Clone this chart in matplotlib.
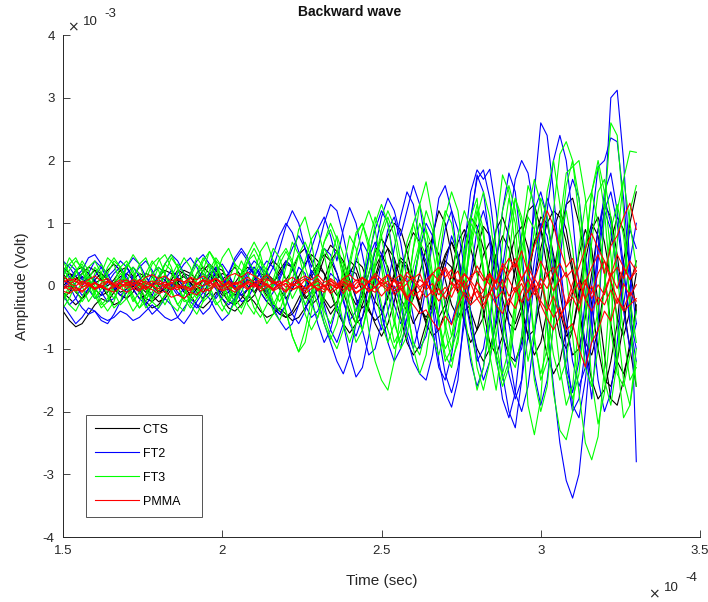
import numpy as np
import matplotlib
matplotlib.use("Agg")
import matplotlib.pyplot as plt
from matplotlib.ticker import FixedLocator

plt.rcParams['font.family'] = ['Liberation Sans', 'DejaVu Sans']

# Sampling of every record: start time and step (seconds)
T_START = 1.5e-4
T_STEP = 0.02e-4
# Amplitudes below are stored in units of 1e-5 V
AMP_UNIT = 1e-5

labels = ["CTS", "FT2", "FT3", "PMMA"]
colors = ["#000000", "#0000ff", "#00ff00", "#ff0000"]

cts = [
    [-40, -55, -65, -60, -45, -30, -20, -25, -10, 5,
     10, -5, -20, -15, 0, 15, 10, -5, 5, 20,
     15, 0, -10, 5, 20, 10, -5, -15, 0, 10,
     5, -10, -25, -35, -45, -50, -40, -20, 0, 20,
     35, 50, 40, 20, -10, -40, -60, -50, -20, 15,
     50, 80, 100, 90, 55, 10, -30, -60, -80, -70,
     -40, 0, 40, 80, 110, 95, 60, 20, -30, -80,
     -110, -120, -90, -40, 10, 60, 100, 120, 110, 70,
     20, -40, -100, -150, -180, -165, -120, -60, 40, 100,
     150],
    [10, 20, 15, 5, 15, 25, 20, 10, 0, -10,
     -5, 10, 20, 15, 0, -10, -5, 10, 25, 20,
     5, -5, 0, 15, 30, 25, 10, -5, -15, -5,
     10, 20, 15, 5, 20, 35, 30, 10, -15, -30,
     -20, 10, 40, 55, 40, 10, -20, -35, -25, 10,
     40, 60, 45, 10, -30, -60, -40, 20, 80, 120,
     100, 50, -10, -60, -90, -70, -20, 40, 90, 110,
     80, 30, -30, -80, -110, -90, -40, 20, 80, 130,
     140, 100, 40, -30, -100, -150, -160, -120, -60, 0,
     40],
    [-20, -10, 5, 15, 10, -5, -15, -10, 5, 15,
     20, 10, -5, -20, -25, -15, 0, 10, 5, -10,
     -15, -5, 10, 20, 10, -10, -25, -30, -20, -5,
     5, 0, -15, -30, -40, -50, -45, -30, -10, 15,
     30, 20, -10, -40, -60, -75, -60, -30, 0, 30,
     50, 30, -10, -50, -90, -110, -95, -60, -20, 20,
     50, 70, 40, -10, -60, -100, -120, -100, -60, -10,
     40, 80, 95, 60, 0, -60, -110, -140, -120, -70,
     -10, 50, 90, 60, -30, -110, -180, -190, -150, -90,
     -40],
    [30, 20, 10, 20, 30, 25, 10, 0, 10, 25,
     30, 15, 0, -10, 0, 15, 25, 20, 5, -5,
     0, 20, 30, 20, 0, -15, -10, 5, 20, 30,
     20, 0, -10, 5, 25, 40, 30, 5, -20, -10,
     15, 45, 65, 55, 25, -10, -30, -15, 20, 55,
     75, 60, 20, -20, -40, -20, 20, 60, 75, 50,
     10, -30, -50, -30, 10, 60, 95, 80, 30, -20,
     -60, -70, -40, 10, 70, 110, 100, 50, -10, -70,
     -110, -100, -50, 20, 90, 130, 110, 50, -30, -100,
     -160],
    [-10, -20, -30, -20, -5, 5, 0, -15, -30, -25,
     -10, 0, -10, -25, -35, -30, -15, 0, 10, 0,
     -15, -30, -35, -25, -10, -20, -35, -40, -30, -15,
     -25, -40, -50, -45, -35, -45, -55, -50, -35, -20,
     -5, -20, -35, -25, 0, 25, 20, -10, -40, -55,
     -45, -15, 20, 45, 35, 0, -35, -50, -30, 10,
     40, 30, -10, -40, -30, 10, 50, 70, 45, 0,
     -40, -60, -30, 20, 70, 90, 60, 10, -40, -80,
     -70, -20, 40, 90, 110, 70, 10, -50, -80, -40,
     20],
    [0, 10, 25, 30, 20, 5, 10, 25, 35, 25,
     10, 0, 10, 20, 15, 0, -10, 0, 15, 25,
     20, 10, 25, 35, 25, 10, 20, 30, 15, 0,
     -10, 5, 20, 10, -5, -20, -5, 15, 35, 50,
     40, 20, 0, -15, 0, 20, 40, 30, 0, -25,
     -40, -20, 15, 40, 30, 0, -30, -55, -40, 0,
     45, 70, 50, 0, -40, -70, -50, 0, 50, 80,
     60, 10, -40, -80, -70, -20, 40, 90, 120, 90,
     30, -40, -90, -110, -70, 0, 70, 110, 90, 30,
     -40],
    [20, 5, -10, -20, -10, 10, 20, 10, -5, -15,
     -20, -10, 5, 0, -15, -25, -20, -5, 10, 15,
     5, -10, -20, -10, 10, 20, 15, 0, -15, -25,
     -15, 5, 25, 40, 30, 10, 25, 50, 60, 40,
     10, -25, -45, -30, 5, 40, 30, 0, -35, -60,
     -80, -60, -25, 20, 60, 85, 70, 30, -20, -50,
     -30, 20, 70, 90, 60, 20, -40, -90, -110, -80,
     -30, 30, 80, 120, 130, 90, 30, -30, -80, -100,
     -70, -10, 60, 100, 80, 20, -60, -120, -140, -100,
     -30],
]

ft2 = [
    [10, 0, -20, -35, -45, -40, -50, -55, -50, -40,
     -45, -55, -50, -40, -30, -40, -50, -55, -50, -35,
     -20, -30, -45, -35, -15, 0, 10, 0, -15, -5,
     15, 30, 20, 0, 10, 35, 60, 80, 60, 30,
     60, 100, 130, 120, 80, 30, -20, -70, -110, -100,
     -60, 0, 60, 110, 150, 130, 70, 0, -70, -130,
     -150, -110, -40, 40, 110, 170, 185, 140, 60, -30,
     -110, -170, -200, -160, -80, 20, 120, 200, 240, 200,
     110, 0, -100, -180, -60, 120, 300, 312, 200, 30,
     -280],
    [20, 35, 25, 10, 20, 40, 30, 10, -5, 10,
     30, 45, 35, 15, 0, 15, 35, 50, 40, 20,
     0, -15, 0, 20, 30, 15, -10, -25, -10, 15,
     30, 20, -5, -30, -45, -30, 0, 30, 20, -20,
     -60, -90, -70, -30, -60, -110, -145, -130, -80, -20,
     40, 90, 110, 70, 10, -50, -100, -80, -30, 30,
     90, 120, 90, 30, -40, -110, -150, -120, -50, 30,
     100, 170, 200, 180, 120, 40, -60, -160, -250, -310,
     -338, -300, -200, -80, 40, 120, 150, 100, 20, -50,
     -100],
    [-15, -30, -20, 0, 15, 10, -10, -25, -20, 0,
     20, 30, 15, -5, -20, -10, 10, 25, 15, -5,
     -25, -35, -20, 5, 25, 35, 20, -5, -25, -20,
     0, 25, 40, 30, 10, -20, -45, -60, -40, -10,
     30, 60, 50, 20, -20, -60, -80, -50, 0, 60,
     110, 140, 120, 80, 120, 160, 130, 60, -30, -120,
     -170, -193, -150, -40, 100, 177, 150, 70, -40, -140,
     -200, -226, -150, -20, 150, 260, 240, 150, 30, -100,
     -190, -210, -150, -50, 60, 150, 180, 120, 30, -60,
     -120],
    [40, 30, 15, 25, 45, 50, 35, 15, 25, 40,
     30, 10, -10, 0, 20, 30, 20, 0, -15, -5,
     20, 40, 50, 35, 15, 0, 20, 45, 60, 45,
     20, 0, 20, 50, 80, 100, 85, 55, 30, 60,
     90, 110, 80, 40, 90, 125, 100, 50, 0, -40,
     -70, -40, 0, -30, -80, -120, -140, -150, -110, -40,
     30, 80, 50, -10, -70, -120, -100, -40, -110, -180,
     -210, -170, -80, 30, 120, 150, 110, 40, -50, -130,
     -170, -120, -20, 100, 190, 200, 236, 230, 140, 20,
     -60],
    [-5, 10, 25, 15, -5, -20, -15, 5, 20, 30,
     15, -5, -20, -30, -15, 5, 15, 5, -10, -20,
     -10, 10, 20, 10, -5, -20, -30, -20, 0, 20,
     30, 15, -10, -35, -55, -70, -60, -30, 0, 25,
     10, -30, -70, -90, -60, -10, 40, 70, 50, 10,
     -40, -90, -120, -100, -50, 10, 60, 40, -20, -80,
     -140, -170, -130, -60, 20, 90, 120, 80, 10, -70,
     -140, -180, -150, -80, 10, 90, 140, 110, 40, -50,
     -120, -160, -130, -40, 60, 120, 90, 20, -30, 40,
     100],
    [25, 15, 0, -15, -5, 15, 30, 20, 0, -15,
     -5, 15, 30, 40, 25, 5, -10, 0, 20, 35,
     45, 30, 10, -10, -20, -5, 20, 40, 55, 40,
     15, -10, -25, -10, 15, 40, 30, 0, -30, -50,
     -40, -10, 20, 10, -25, -55, -40, 0, 45, 70,
     50, 10, -30, -60, -40, 10, 60, 100, 80, 30,
     -30, -60, -20, 60, 150, 185, 170, 186, 120, 30,
     -60, -120, -100, -40, 40, 100, 80, 20, -60, -140,
     -200, -180, -100, 0, 90, 140, 100, 30, -40, -100,
     -60],
    [-30, -45, -60, -50, -35, -40, -55, -60, -45, -25,
     -10, 5, -10, -30, -45, -35, -20, -30, -50, -60,
     -45, -25, -10, -20, -40, -55, -45, -20, 5, 25,
     40, 30, 10, 30, 60, 95, 120, 100, 60, 20,
     -20, -60, -90, -120, -140, -110, -60, 0, 50, 90,
     120, 100, 40, -20, -70, -100, -60, 0, 70, 140,
     160, 120, 40, -50, -120, -160, -130, -60, 30, 120,
     180, 150, 60, -50, -140, -190, -150, -60, 40, 130,
     170, 140, 50, -60, -150, -200, -170, -90, 20, 90,
     60],
]

ft3 = [
    [30, 10, -10, 5, 30, 40, 20, -5, -20, 0,
     30, 50, 35, 5, -20, -10, 20, 45, 30, 0,
     -25, -10, 25, 55, 40, 10, -20, -30, 0, 40,
     60, 40, 0, -30, -10, 30, 70, 50, 10, -30,
     -50, -20, 40, 80, 50, 0, -50, -70, -30, 30,
     80, 110, 80, 20, -40, -90, -110, -70, 0, 70,
     120, 100, 40, -40, -110, -166, -130, -50, 40, 120,
     160, 120, 40, -60, -150, -200, -160, -60, 60, 160,
     200, 140, 30, -90, -40, 120, 260, 240, 120, -40,
     -160],
    [-20, 0, 25, 35, 15, -10, -30, -20, 5, 30,
     40, 20, -10, -35, -25, 5, 35, 50, 30, 0,
     -30, -45, -25, 10, 40, 30, 0, -30, -45, -20,
     20, 55, 70, 40, 0, -40, -80, -105, -70, -20,
     30, 70, 90, 60, 10, -50, -90, -70, -20, 40,
     90, 120, 95, 40, -30, -100, -140, -110, -40, 40,
     110, 150, 120, 40, -50, -130, -166, -120, -30, 70,
     140, 100, -40, -190, -237, -180, -40, 120, 210, 230,
     200, 110, -20, -150, -220, -170, -60, 70, 170, 215,
     213],
    [15, 35, 45, 25, 0, -20, -5, 20, 40, 30,
     5, -20, -35, -15, 15, 40, 50, 30, 0, -25,
     -20, 10, 40, 55, 35, 5, -20, -10, 20, 50,
     70, 50, 10, -25, -40, -10, 40, 90, 110, 70,
     10, -40, -60, -30, 30, 80, 60, 0, -70, -120,
     -150, -166, -120, -40, 40, 100, 130, 90, 20, -50,
     -110, -130, -80, 0, 80, 130, 90, 0, 90, 177,
     150, 60, -40, -120, -70, 30, 150, 200, 130, 20,
     -80, -170, -250, -277, -240, -130, 10, 120, 170, 100,
     30],
    [-35, -20, 5, 20, 10, -15, -35, -25, 0, 20,
     10, -15, -35, -25, 5, 30, 20, -10, -30, -15,
     15, 35, 20, -10, -30, -20, 10, 35, 25, -5,
     -35, -50, -30, 10, 45, 60, 40, 0, -30, -10,
     30, 70, 100, 75, 20, -30, -60, -20, 40, 100,
     130, 100, 30, -40, -20, 60, 130, 166, 110, 20,
     -70, -120, -90, -10, 70, 120, 80, 0, -90, -150,
     -120, -30, 80, 160, 130, 40, -70, -170, -230, -245,
     -200, -90, 50, 150, 190, 120, 0, -120, -210, -190,
     -100],
    [5, 25, 40, 30, 10, -10, 5, 30, 45, 30,
     0, -25, -10, 20, 40, 25, -5, -30, -40, -15,
     20, 45, 30, 0, -25, -40, -20, 15, 40, 20,
     -10, -35, -60, -45, -10, -40, -80, -105, -90, -40,
     20, 60, 40, -10, -60, -90, -60, 0, 70, 110,
     80, 20, -50, -100, -80, -10, 70, 120, 90, 30,
     -30, -80, -50, 30, 110, 140, 20, -110, -166, -90,
     40, 140, 110, 20, -80, -150, -120, -20, 100, 180,
     190, 200, 140, 40, -60, -150, -190, -120, 0, 120,
     160],
    [40, 20, -5, -25, -10, 20, 35, 15, -10, -30,
     -20, 10, 35, 45, 20, -10, -30, -10, 25, 45,
     30, 0, -25, -15, 15, 45, 60, 35, 0, -30,
     -45, -15, 30, 60, 45, 10, -20, 0, 40, 75,
     90, 50, 0, -40, -20, 30, 80, 100, 60, 0,
     -60, -90, -60, 0, 70, 100, 60, -10, -80, -110,
     -70, 0, 80, 120, 90, 20, -60, -110, -80, 0,
     90, 140, 100, 10, -90, -140, -100, -10, 80, 120,
     60, -40, -130, -160, -100, 0, 90, 130, 80, -20,
     -90],
    [-10, -30, -40, -20, 10, 30, 15, -15, -35, -25,
     5, 30, 20, -5, -25, -35, -15, 15, 35, 20,
     -5, -20, -5, 25, 45, 30, 5, -20, -35, -15,
     15, 40, 25, -5, -25, -5, 30, 50, 30, 0,
     -30, -60, -85, -60, -10, 40, 85, 100, 70, 20,
     -30, -70, -100, -80, -30, 30, 70, 50, 0, -60,
     -100, -80, -20, 50, 100, 80, 20, -50, -110, -140,
     -100, -20, 60, 110, 90, 30, -40, -110, -150, -120,
     -40, 60, 130, 150, 100, 20, -70, -140, -160, -110,
     -40],
    [20, 45, 30, 0, -25, -10, 20, 45, 35, 5,
     -20, -40, -25, 10, 35, 45, 20, -5, -30, -40,
     -15, 20, 45, 30, 0, -30, -45, -25, 10, 40,
     50, 25, -10, -40, -55, -30, 10, 50, 70, 45,
     0, -50, -80, -100, -70, -10, 50, 90, 120, 90,
     30, -40, -90, -70, -10, 60, 100, 70, 10, -60,
     -120, -100, -30, 50, 110, 90, 30, -50, -120, -160,
     -130, -50, 40, 120, 170, 130, 50, -40, -130, -190,
     -160, -60, 60, 150, 200, 150, 50, -60, -150, -190,
     -120],
    [-25, -5, 20, 40, 25, 0, -25, -40, -25, 5,
     35, 25, 0, -20, -10, 15, 35, 25, 0, -20,
     -35, -20, 10, 35, 20, -5, -25, -10, 20, 40,
     25, 0, -20, 0, 35, 55, 35, 0, -45, -70,
     -50, -10, 30, 55, 35, -10, -40, -20, 20, 60,
     40, -10, -60, -90, -60, 0, 60, 90, 60, 0,
     -60, -100, -70, 0, 60, 110, 150, 110, 30, -50,
     -110, -130, -80, 10, 90, 140, 110, 30, -60, -140,
     -180, -140, -40, 70, 150, 170, 110, 20, -80, -150,
     -130],
]

pmma = [
    [5, 12, 8, 2, 6, -4, -2, 8, 4, 10,
     3, -4, 2, -6, 4, 10, 2, 6, -3, -1,
     -6, 4, 10, 6, 12, 3, -2, 4, 8, 14,
     6, 10, 2, -4, 3, 8, 14, 6, 12, 2,
     -4, -10, 2, -3, 12, 18, 8, 14, -4, -10,
     2, -8, 10, 4, 22, 12, 20, -6, 4, -14,
     -2, -18, 6, 20, 8, 32, 14, 2, -20, -8,
     -30, -6, 12, 30, 10, 40, 18, -8, 10, -30,
     -18, -40, 6, 30, 50, 20, 64, 80, 110, 132,
     90],
    [-8, -12, -4, -10, 0, 6, -2, -6, -10, -2,
     4, 10, 6, 14, 18, 12, 16, 8, 12, 6,
     12, 4, 8, 0, 6, -2, 4, -6, 0, 6,
     2, 8, 12, 4, 8, -2, 6, 10, 16, 10,
     18, 6, 10, -4, 2, -8, 4, 12, 6, 20,
     10, 18, -4, 6, -18, -6, -22, 4, -10, 14,
     30, 12, 24, -6, 4, -20, -8, 16, 6, 36,
     22, 44, 10, 30, 64, 90, 120, 96, 60, 30,
     44, 10, -20, 0, -30, -10, 20, -4, 30, 10,
     24],
    [10, 4, 8, -2, 2, -6, 4, 8, 0, -4,
     -10, -4, -8, 0, -6, -12, -8, -18, -14, -20,
     -10, -14, -4, -8, 2, -6, 0, 6, -2, 8,
     2, -4, 4, -8, -2, -10, 2, 6, -4, 4,
     -8, 2, -12, -4, 6, -2, 10, 2, -8, -2,
     -16, -4, 10, -2, 16, 8, -6, -18, -8, -24,
     -10, 6, -4, 18, 8, -6, -20, -10, -30, -44,
     -20, -36, -8, 10, -14, 4, -30, -50, -34, -70,
     -60, -100, -129, -90, -70, -40, -56, -20, -36, -10,
     -24],
    [-3, 4, 0, 8, 2, -4, 0, -6, 2, -2,
     6, 2, 10, 4, 0, 6, -2, 4, 10, 6,
     14, 10, 16, 8, 12, 2, 6, -4, 2, -6,
     4, -2, 10, 6, 0, 4, -6, 0, -8, 2,
     8, -2, 12, 4, -6, 2, -12, -4, 6, -2,
     10, 2, -8, -2, -20, -30, -44, -38, -56, -70,
     -48, -62, -30, -10, -24, 6, -8, 20, 4, 30,
     10, -10, 4, -24, -8, 12, -4, 20, 36, 14,
     26, -6, 10, -20, 2, -14, 16, 30, 12, 40,
     24],
    [0, -6, -2, -8, 0, 4, -2, 6, 0, 4,
     -4, 2, -6, 4, 8, 2, 6, -2, -6, 0,
     -4, 4, 0, 6, -2, -8, -4, -10, -2, 4,
     -2, 6, 0, -6, 2, -8, 4, -2, 10, 4,
     12, 0, -8, 2, -12, 4, -4, 14, 6, 16,
     0, 8, -14, -4, -22, -6, 10, 2, 20, 8,
     26, 4, -10, 8, -20, -8, -30, -12, 10, -4,
     20, 36, 12, -10, 4, -24, -40, -16, -50, -30,
     -8, -28, 4, -12, 20, 40, 16, 50, 30, 10,
     30],
    [15, 8, 12, 4, 10, 16, 8, 12, 2, 6,
     10, 2, 6, -4, 2, -8, -2, -6, 2, -4,
     -8, 0, -10, -4, 4, -2, 8, 2, 6, -4,
     2, -8, -2, 6, 0, 4, -6, -2, -12, -4,
     2, -6, 8, 2, 12, 6, -4, 4, -10, -2,
     6, -4, 10, 18, 6, 14, -2, 8, -14, -4,
     -20, -6, 10, -2, 16, 24, 8, 20, -6, 10,
     -16, -2, -26, -8, 12, -4, 18, 30, 8, 22,
     -10, 6, -22, -40, -18, -30, -6, -28, 4, -16,
     2],
    [-5, 0, -8, -2, 4, -4, 2, -6, -2, 4,
     0, 6, 2, 8, 0, -4, 2, -6, -2, 4,
     8, 2, 10, 4, 12, 6, 16, 20, 14, 22,
     16, 10, 18, 8, 4, 10, 0, 6, -4, 2,
     -6, 0, 4, -4, 8, 2, -10, -4, 8, 14,
     4, 18, 8, -6, 4, -16, -8, 10, 20, 30,
     14, 26, 4, -16, -30, -20, -36, -10, 8, 28,
     44, 30, 56, 20, -4, -30, -52, -70, -48, -30,
     4, 30, 60, 84, 60, 40, 8, -20, -40, -30,
     -20],
]

groups = [cts, ft2, ft3, pmma]

xticks = [1.5e-4, 2.0e-4, 2.5e-4, 3.0e-4, 3.5e-4]
xtick_labels = ["1.5", "2", "2.5", "3", "3.5"]
yticks = [-4e-3, -3e-3, -2e-3, -1e-3, 0, 1e-3, 2e-3, 3e-3, 4e-3]
ytick_labels = ["-4", "-3", "-2", "-1", "0", "1", "2", "3", "4"]

W, H = 708, 602
AX_L, AX_R, AX_T, AX_B = 63, 700, 35, 537
fig = plt.figure(figsize=(W / 100, H / 100), dpi=100)
ax = fig.add_axes([AX_L / W, (H - AX_B) / H, (AX_R - AX_L) / W, (AX_B - AX_T) / H])

handles = []
for traces, lab, col in zip(groups, labels, colors):
    for k, vals in enumerate(traces):
        v = np.asarray(vals, dtype=float) * AMP_UNIT
        t = T_START + T_STEP * np.arange(len(v))
        ln, = ax.plot(t, v, color=col, lw=0.8)
        if k == 0:
            handles.append(ln)

ax.set_xlim(1.5e-4, 3.5e-4)
ax.set_ylim(-4e-3, 4e-3)
ax.xaxis.set_major_locator(FixedLocator(xticks))
ax.yaxis.set_major_locator(FixedLocator(yticks))
ax.set_xticklabels(xtick_labels)
ax.set_yticklabels(ytick_labels)
ax.tick_params(direction='in', length=5, width=0.6, labelsize=9.5,
               colors='#262626', pad=6)
for s in ('top', 'right'):
    ax.spines[s].set_visible(False)
for s in ('left', 'bottom'):
    ax.spines[s].set_linewidth(0.7)
    ax.spines[s].set_color('#262626')

ax.set_xlabel("Time (sec)", fontsize=11, labelpad=12, color='#262626')
ax.set_ylabel("Amplitude (Volt)", fontsize=11, labelpad=10, color='#262626')
fig.text(350 / W, 1 - 12 / H, "Backward wave", ha='center', va='center',
         fontsize=10, fontweight='bold', color='#111111')

# Exponent multipliers for the axes
fig.text(67 / W, 1 - 27 / H, r"$\times$", fontsize=10, ha='left', va='center', color='#262626')
fig.text(83 / W, 1 - 22 / H, "10", fontsize=9.5, ha='left', va='center', color='#262626')
fig.text(104 / W, 1 - 14 / H, "-3", fontsize=9.5, ha='left', va='center', color='#262626')
fig.text(648 / W, 1 - 594 / H, r"$\times$", fontsize=10, ha='left', va='center', color='#262626')
fig.text(664 / W, 1 - 588 / H, "10", fontsize=9.5, ha='left', va='center', color='#262626')
fig.text(685 / W, 1 - 578 / H, "-4", fontsize=9.5, ha='left', va='center', color='#262626')

# Legend: box top at y=415 px, left at x=86 px; trailing spaces widen the frame
ax_w = AX_R - AX_L
ax_h = AX_B - AX_T
leg_labels = [s + "    " for s in labels]
leg = ax.legend(handles, leg_labels, loc='upper left',
                bbox_to_anchor=((86 - AX_L) / ax_w, (AX_B - 415) / ax_h),
                fontsize=9, frameon=True, fancybox=False, edgecolor='#262626',
                handlelength=3.5, handletextpad=0.35, labelspacing=0.96,
                borderpad=0.7, borderaxespad=0)
leg.get_frame().set_linewidth(0.7)
for lh in leg.get_lines():
    lh.set_linewidth(0.8)

fig.savefig("out.png", dpi=100)
